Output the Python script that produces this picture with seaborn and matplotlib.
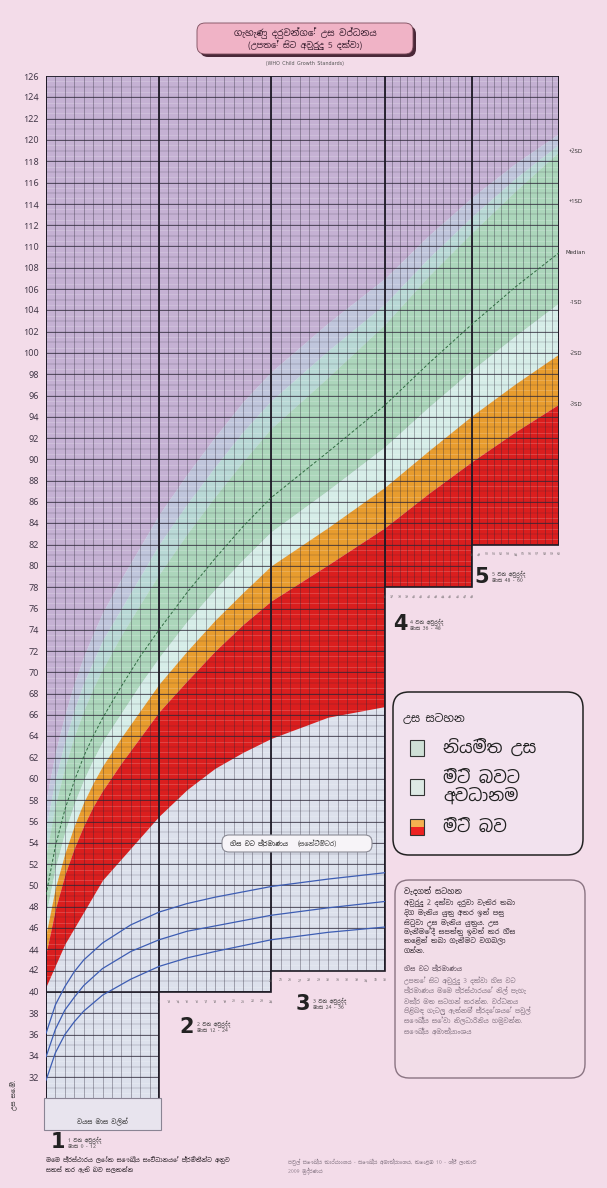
import numpy as np
import matplotlib
matplotlib.use("Agg")
import matplotlib.pyplot as plt
import seaborn as sns
from matplotlib import font_manager as fm
from matplotlib.patches import Polygon, FancyBboxPatch, Rectangle

# ---- chart data (girls, height for age) ----
months = [0, 1, 2, 3, 4, 5, 6, 8, 10, 12, 15, 18, 21, 24, 30, 36, 42, 48, 54, 60]
sd_m3 = [43.6, 47.8, 51.0, 53.5, 55.6, 57.4, 58.9, 61.5, 63.9, 66.3, 69.2, 72.0, 74.5, 76.7, 80.1, 83.6, 86.8, 89.8, 92.6, 95.2]
sd_m2 = [45.4, 49.8, 53.0, 55.6, 57.8, 59.6, 61.2, 63.9, 66.4, 68.9, 72.0, 74.9, 77.5, 80.0, 83.6, 87.4, 90.8, 94.1, 97.1, 99.9]
sd_m1 = [47.3, 51.7, 55.0, 57.7, 59.9, 61.8, 63.5, 66.2, 68.9, 71.4, 74.8, 77.8, 80.6, 83.2, 87.1, 91.2, 94.9, 98.4, 101.6, 104.7]
median = [49.1, 53.7, 57.1, 59.8, 62.1, 64.0, 65.7, 68.7, 71.5, 74.0, 77.5, 80.7, 83.7, 86.4, 90.7, 95.1, 99.0, 102.7, 106.2, 109.4]
sd_p1 = [51.0, 55.6, 59.1, 61.9, 64.3, 66.2, 68.0, 71.1, 74.0, 76.6, 80.2, 83.6, 86.7, 89.6, 94.2, 98.9, 103.1, 107.0, 110.7, 114.2]
sd_p2 = [52.9, 57.6, 61.1, 64.0, 66.4, 68.5, 70.3, 73.5, 76.4, 79.2, 83.0, 86.5, 89.8, 92.9, 97.7, 102.7, 107.2, 111.3, 115.2, 118.9]
# where the green fades into the lavender at the top
green_mid = [55.5, 60.0, 63.5, 66.5, 69.0, 71.0, 73.0, 76.0, 79.0, 82.0, 85.8, 89.3, 92.6, 95.5, 100.2, 104.6, 108.9, 112.8, 116.4, 119.6]
green_top = [58.0, 62.5, 66.0, 69.0, 71.5, 73.6, 75.6, 78.8, 81.8, 84.8, 88.6, 92.1, 95.4, 98.2, 102.8, 107.0, 111.0, 114.6, 117.8, 120.6]
red_floor = [40.5, 42.5, 44.5, 46.0, 47.5, 49.0, 50.5, 52.5, 54.5, 56.5, 59.0, 61.0, 62.5, 63.8, 65.8, 66.8, 67.5, 68.2, 68.8, 69.3]

# head circumference curves (blue, lower left)
hc_months = [0, 1, 2, 3, 4, 6, 9, 12, 15, 18, 24, 30, 36]
hc_m2 = [31.7, 34.3, 36.0, 37.2, 38.2, 39.7, 41.2, 42.4, 43.2, 43.8, 44.9, 45.6, 46.1]
hc_med = [33.9, 36.5, 38.3, 39.5, 40.6, 42.2, 43.8, 44.9, 45.7, 46.2, 47.2, 47.9, 48.5]
hc_p2 = [36.1, 38.8, 40.5, 41.9, 43.0, 44.6, 46.3, 47.5, 48.3, 48.9, 49.9, 50.6, 51.2]

year_edge_month = [0, 12, 24, 36, 48, 60]
year_bottom = [30, 40, 42, 78, 82]
height_ticks = list(range(32, 127, 2))
sd_labels = ["+2SD", "+1SD", "Median", "-1SD", "-2SD", "-3SD"]
legend_labels = ["නියමිත උස", "මිටි බවට\nඅවධානම", "මිටි බව"]

# printed chart: years 4 and 5 are narrower than years 1-3
year_edge_px = [46, 159, 271, 385, 472, 559]

sns.set_theme(style="white")
sin = [f.name for f in fm.fontManager.ttflist if "Sinhala" in f.name or "Iskoola" in f.name]
FAM = ([sin[0]] if sin else []) + ["DejaVu Sans"]
plt.rcParams["font.family"] = FAM

W, H = 607, 1188
fig = plt.figure(figsize=(W / 100, H / 100), dpi=100)
fig.patch.set_facecolor("#f3dce9")


def fx(px):
    return px / W


def fy(py):
    return 1 - py / H


def rbox(x0, y0, x1, y1, r, **kw):
    p = FancyBboxPatch((fx(x0), fy(y1)), fx(x1) - fx(x0), fy(y0) - fy(y1),
                       boxstyle=f"round,pad=0,rounding_size={r / W}",
                       mutation_aspect=W / H, transform=fig.transFigure, **kw)
    fig.add_artist(p)
    return p


ax = fig.add_axes([fx(46), fy(1098.5), fx(559) - fx(46), fy(76) - fy(1098.5)])
ax.set_facecolor("none")
ax.set_xscale("function", functions=(lambda m: np.interp(m, year_edge_month, year_edge_px),
                                     lambda p: np.interp(p, year_edge_px, year_edge_month)))
ax.set_xlim(0, 60)
ax.set_ylim(30, 126)
for s in ax.spines.values():
    s.set_visible(False)

# staircase outline of the printed grid
stair = [(0, 126), (60, 126)]
for i in range(4, -1, -1):
    stair += [(year_edge_month[i + 1], year_bottom[i]), (year_edge_month[i], year_bottom[i])]
clip = Polygon(stair, closed=True, transform=ax.transData)

ax.add_patch(Polygon(stair, closed=True, fc="#dde1ec", ec="none"))
bands = [
    (green_top, [126] * len(months), "#c5b1d3"),
    (green_mid, green_top, "#c0c6dc"),
    (sd_p2, green_mid, "#b9d9d6"),
    (sd_m1, sd_p2, "#acd6bb"),
    (sd_m2, sd_m1, "#d6ede8"),
    (sd_m3, sd_m2, "#e89c2e"),
    (red_floor, sd_m3, "#da1e1e"),
]
for lo, hi, c in bands:
    ax.fill_between(months, lo, hi, color=c, lw=0).set_clip_path(clip)

# grid
grid_c = "#2b2636"
ax.hlines(np.arange(30, 127, 1), 0, 60, colors=grid_c, lw=0.35, alpha=0.4).set_clip_path(clip)
ax.hlines(height_ticks, 0, 60, colors=grid_c, lw=0.7, alpha=0.7).set_clip_path(clip)
ax.hlines(np.arange(30.5, 126, 1), 0, 60, colors="white", lw=0.4, alpha=0.3).set_clip_path(clip)
ax.vlines(np.arange(0, 61), 30, 126, colors=grid_c, lw=0.45, alpha=0.55).set_clip_path(clip)
ax.vlines(year_edge_month, 30, 126, colors="#1e1a26", lw=1.3).set_clip_path(clip)
ax.hlines([40], 0, 24, colors="#1e1a26", lw=1.1).set_clip_path(clip)

# median dashed line + head circumference curves
sns.lineplot(x=months, y=median, ax=ax, color="#2f6a40", lw=0.7, linestyle=(0, (3, 2)))
for hc in (hc_m2, hc_med, hc_p2):
    sns.lineplot(x=hc_months, y=hc, ax=ax, color="#3d5db3", lw=0.9)
for ln in ax.lines:
    ln.set_clip_path(clip)

ax.add_patch(Polygon(stair, closed=True, fill=False, ec="#1e1a24", lw=1.2))

ax.set_xticks([])
ax.set_yticks(height_ticks)
ax.set_yticklabels([str(v) for v in height_ticks])
ax.tick_params(axis="y", length=0, pad=5, labelsize=6.5, labelcolor="#3a3040")
for t in ax.get_yticklabels():
    t.set_fontweight("bold")

for lab, vals in zip(sd_labels, [sd_p2, sd_p1, median, sd_m1, sd_m2, sd_m3]):
    ax.annotate(lab, xy=(60, vals[-1]), xytext=(12, 0), textcoords="offset points",
                ha="center", va="center", fontsize=4, color="#333", annotation_clip=False)

# month numbers under each block, year labels
label_off = [(12, 44), (28, 35), (32, 33), (15, 37), (10, 32)]
for i in range(5):
    m0, b = year_edge_month[i], year_bottom[i]
    for m in range(m0, m0 + 13):
        ax.annotate(str(m), xy=(m, b), xytext=(0, -7), textcoords="offset points",
                    ha="center", va="center", fontsize=2.6, color="#555", annotation_clip=False)
    dx, dy = label_off[i]
    ax.annotate(str(i + 1), xy=(m0, b), xytext=(dx / 1.389, -dy / 1.389), textcoords="offset points",
                ha="center", va="center", fontsize=15, fontweight="bold", color="#222",
                family="DejaVu Sans", annotation_clip=False)
    ax.annotate(f"{i + 1} වන අවුරුද්ද\nමාස {m0} - {m0 + 12}", xy=(m0, b),
                xytext=(dx / 1.389 + 7, -dy / 1.389), textcoords="offset points",
                ha="left", va="center", fontsize=3.6, color="#333", linespacing=1.2,
                annotation_clip=False)

# year-1 table under the grid
fig.add_artist(Rectangle((fx(44), fy(1130)), fx(161) - fx(44), fy(1098) - fy(1130),
                         transform=fig.transFigure, fc="#e8e4ee", ec="#8a8494", lw=0.8))
fig.text(fx(102), fy(1122), "වයස මාස වලින්", ha="center", va="center", fontsize=4.5,
         fontweight="bold", color="#333")

# title
rbox(200, 26, 416, 57, 8, fc="#4a2838", ec="none")
rbox(197, 23, 413, 54, 8, fc="#f0b3c6", ec="#7a4a5a", lw=0.6)
fig.text(fx(305), fy(33), "ගැහැණු දරුවන්ගේ උස වර්ධනය", ha="center", va="center",
         fontsize=6.5, color="#3a2030")
fig.text(fx(305), fy(45), "(උපතේ සිට අවුරුදු 5 දක්වා)", ha="center", va="center",
         fontsize=6, color="#3a2030")
fig.text(fx(305), fy(63), "(WHO Child Growth Standards)", ha="center", va="center",
         fontsize=3.5, color="#555")

# legend
rbox(393, 692, 583, 855, 16, fc="#f2e2ee", ec="#222", lw=1.1)
fig.text(fx(403), fy(718), "උස සටහන", ha="left", va="center", fontsize=8, color="#222")
sw_y = [748, 787, 827]
sw_c = ["#cfe0d6", "#dde9e4", None]
for y, c, lab in zip(sw_y, sw_c, legend_labels):
    if c:
        fig.add_artist(Rectangle((fx(410), fy(y + 8)), fx(424) - fx(410), fy(y - 8) - fy(y + 8),
                                 transform=fig.transFigure, fc=c, ec="#333", lw=0.8))
    else:
        fig.add_artist(Rectangle((fx(410), fy(y + 8)), fx(424) - fx(410), fy(y) - fy(y + 8),
                                 transform=fig.transFigure, fc="#ee2222", ec="none"))
        fig.add_artist(Rectangle((fx(410), fy(y)), fx(424) - fx(410), fy(y - 8) - fy(y),
                                 transform=fig.transFigure, fc="#f5b050", ec="none"))
        fig.add_artist(Rectangle((fx(410), fy(y + 8)), fx(424) - fx(410), fy(y - 8) - fy(y + 8),
                                 transform=fig.transFigure, fill=False, ec="#333", lw=0.8))
    fig.text(fx(443), fy(y), lab, ha="left", va="center", fontsize=12, color="#222",
             linespacing=1.0)

# head circumference tag
rbox(222, 835, 372, 852, 7, fc="#f7f4f8", ec="#8a8a94", lw=0.8)
fig.text(fx(230), fy(843.5), "හිස වට ප්‍රමාණය", ha="left", va="center", fontsize=4.6,
         fontweight="bold", color="#222")
fig.text(fx(298), fy(843.5), "(සෙන්ටිමීටර)", ha="left", va="center", fontsize=4.6, color="#444")

# notes box
rbox(395, 880, 585, 1078, 14, fc="#f2dde8", ec="#8a7482", lw=1.0)
fig.text(fx(404), fy(891), "වැදගත් සටහන", ha="left", va="center", fontsize=5.5,
         fontweight="bold", color="#2a2228")
notes_a = ["අවුරුදු 2 දක්වා දරුවා වැතිර තබා",
           "දිග මැනිය යුතු අතර ඉන් පසු",
           "සිටුවා උස මැනිය යුතුය. උස",
           "මැනීමේදී සපත්තු ඉවත් කර හිස",
           "කෙළින් තබා ගැනීමට වගබලා",
           "ගන්න."]
for k, t in enumerate(notes_a):
    fig.text(fx(404), fy(903 + k * 9.5), t, ha="left", va="center", fontsize=5, color="#3a3038")
fig.text(fx(404), fy(968), "හිස වට ප්‍රමාණය", ha="left", va="center", fontsize=4.6,
         fontweight="bold", color="#5a4a58")
notes_b = ["උපතේ සිට අවුරුදු 3 දක්වා හිස වට",
           "ප්‍රමාණය මෙම ප්‍රස්ථාරයේ නිල් පැහැ",
           "වක්‍ර මත සටහන් කරන්න. වර්ධනය",
           "පිළිබඳ ගැටලු ඇත්නම් ප්‍රදේශයේ පවුල්",
           "සෞඛ්‍ය සේවා නිලධාරිනිය හමුවන්න.",
           "සෞඛ්‍ය අමාත්‍යාංශය"]
for k, t in enumerate(notes_b):
    fig.text(fx(404), fy(981 + k * 10), t, ha="left", va="center", fontsize=4.6, color="#8a7a88")

# footer
fig.text(fx(46), fy(1160), "මෙම ප්‍රස්ථාරය ලෝක සෞඛ්‍ය සංවිධානයේ ප්‍රමිතීන්ට අනුව", ha="left",
         va="center", fontsize=4.3, fontweight="bold", color="#2a2228")
fig.text(fx(46), fy(1170), "සකස් කර ඇති බව සලකන්න", ha="left", va="center", fontsize=4.3,
         fontweight="bold", color="#2a2228")
fig.text(fx(288), fy(1162), "පවුල් සෞඛ්‍ය කාර්යාංශය - සෞඛ්‍ය අමාත්‍යාංශය, කොළඹ 10 - ශ්‍රී ලංකාව",
         ha="left", va="center", fontsize=3.6, color="#8a7a88")
fig.text(fx(288), fy(1171), "2009 මුද්‍රණය", ha="left", va="center", fontsize=3.6, color="#8a7a88")
fig.text(fx(14), fy(1095), "උස සෙ.මී.", ha="center", va="center", fontsize=4.5, rotation=90,
         color="#333")

fig.savefig("out.png", dpi=100, facecolor=fig.get_facecolor())
